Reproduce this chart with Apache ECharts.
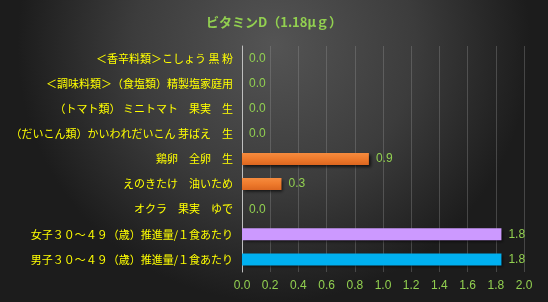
<!DOCTYPE html>
<html><head><meta charset="utf-8">
<script src="https://cdn.jsdelivr.net/npm/echarts@6/dist/echarts.min.js"></script>
<style>html,body{margin:0;padding:0;background:#222;}#c{width:548px;height:302px;}</style>
</head><body><div id="c"></div>
<script>
const titleText = 'ビタミンD（1.18μｇ）';
const categories = [
  '＜香辛料類＞こしょう 黒 粉',
  '＜調味料類＞（食塩類）精製塩家庭用',
  '（トマト類） ミニトマト　果実　生',
  '（だいこん類）かいわれだいこん 芽ばえ　生',
  '鶏卵　全卵　生',
  'えのきたけ　油いため',
  'オクラ　果実　ゆで',
  '女子３０～４９（歳）推進量/１食あたり',
  '男子３０～４９（歳）推進量/１食あたり'
];
const values = [0, 0, 0, 0, 0.9, 0.28, 0, 1.84, 1.84];
const barColors = ['orange','orange','orange','orange','orange','orange','orange','#CC99FF','#00B0F0'];
const xTicks = [0, 0.2, 0.4, 0.6, 0.8, 1.0, 1.2, 1.4, 1.6, 1.8, 2.0];

const orange = new echarts.graphic.LinearGradient(0,0,0,1,[{offset:0,color:'#F68B3E'},{offset:0.5,color:'#EE7A2C'},{offset:1,color:'#DC6620'}]);
const chart = echarts.init(document.getElementById('c'));
chart.setOption({
  backgroundColor: new echarts.graphic.RadialGradient(0.5, 0.15, 0.85, [
    {offset:0, color:'#545454'},
    {offset:0.55, color:'#3c3c3c'},
    {offset:1, color:'#1c1c1c'}
  ]),
  title: {
    text: titleText, left: 'center', top: 11,
    textStyle: {color:'#92D050', fontSize: 13, fontWeight:'bold', fontFamily:'Noto Sans CJK JP'}
  },
  grid: {left: 242, right: 24, top: 46, bottom: 30, containLabel: false},
  xAxis: {
    type: 'value', min: 0, max: 2.0, interval: 0.2,
    axisLine: {show:false}, axisTick: {show:false},
    splitLine: {show:true, lineStyle:{color:'rgba(150,150,150,0.35)', width:1}},
    axisLabel: {color:'#92D050', fontSize: 12, fontFamily:'Liberation Sans', margin: 8,
      formatter: v => v.toFixed(1)}
  },
  yAxis: {
    type: 'category', data: categories, inverse: true,
    axisLine: {show:true, lineStyle:{color:'#bfbfbf', width:1}},
    axisTick: {show:false},
    axisLabel: {color:'#FFFF00', fontSize: 11, fontFamily:'Noto Sans CJK JP', margin: 9}
  },
  series: [{
    type: 'bar', barWidth: 12,
    data: values.map((v,i)=>({value:v, itemStyle:{color: barColors[i]==='orange'?orange:barColors[i]}})),
    itemStyle: {shadowColor:'rgba(0,0,0,0.7)', shadowBlur:3, shadowOffsetX:2, shadowOffsetY:2},
    label: {show:true, position:'right', distance: 7, color:'#92D050', fontSize:12, fontFamily:'Liberation Sans',
      formatter: p => p.value.toFixed(1)},
    animation: false
  }],
  animation: false
});
</script></body></html>
